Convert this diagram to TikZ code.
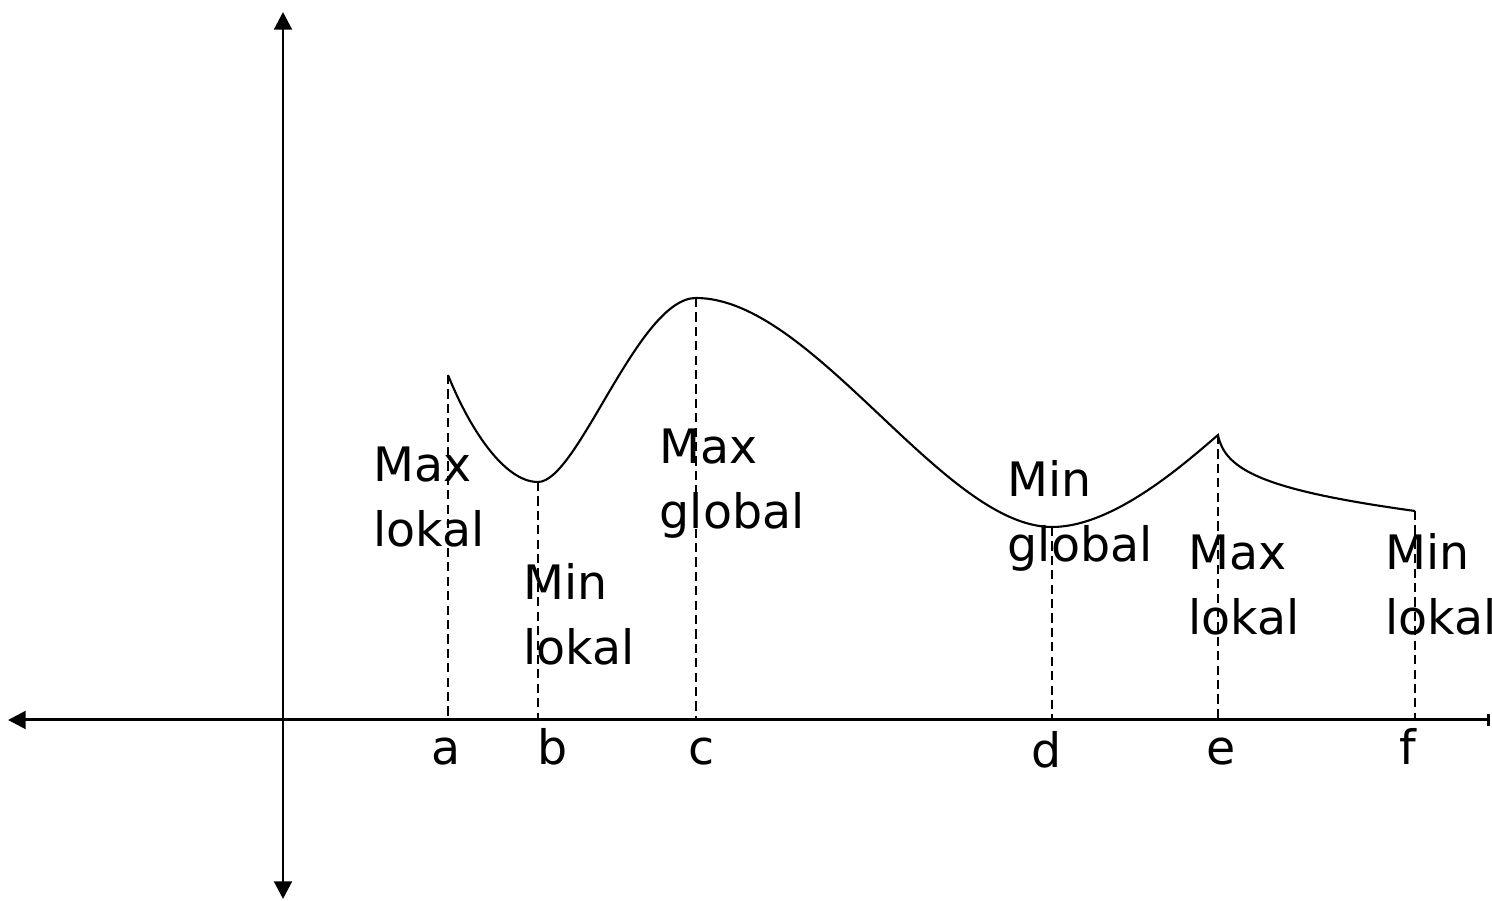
\documentclass[tikz,border=0pt]{standalone}
\usepackage{fontspec}
\setmainfont{DejaVu Sans}
\usetikzlibrary{arrows.meta,positioning}

\begin{document}
\begin{tikzpicture}[
  axis/.style={line width=0.85pt},
  guide/.style={line width=0.6pt, dash pattern=on 2.6pt off 1.5pt},
  lbl/.style={font=\fontsize{13.5}{18.5}\selectfont, align=left, anchor=base west, inner sep=0pt},
  tick/.style={font=\fontsize{13.5}{16}\selectfont, anchor=base, inner sep=0pt}]
\useasboundingbox (-2.83,-1.81) rectangle (12.09,7.20);
% axes
\coordinate (ytop) at (0,7.08);
\coordinate (ybot) at (0,-1.79);
\coordinate (xl) at (-2.75,0);
\coordinate (xr) at (12.07,0);
\draw[axis, {Triangle[length=5pt,width=5pt]}-{Triangle[length=5pt,width=5pt]}] (ybot) -- (ytop);
\draw[axis, {Triangle[length=5pt,width=5pt]}-{Bar[width=3.5pt]}] (xl) -- (xr);
% extreme points of the curve
\coordinate (pa) at (1.65,3.45);
\coordinate (pb) at (2.55,2.38);
\coordinate (pc) at (4.13,4.22);
\coordinate (pd) at (7.69,1.93);
\coordinate (pe) at (9.35,2.85);
\coordinate (pf) at (11.32,2.09);
\draw[line width=0.6pt] (pa) .. controls (1.85,2.95) and (2.2,2.38) .. (pb)
  .. controls (2.95,2.38) and (3.55,4.22) .. (pc)
  .. controls (5.3,4.22) and (6.6,1.93) .. (pd)
  .. controls (8.3,1.93) and (9.0,2.55) .. (pe)
  .. controls (9.42,2.5) and (9.8,2.3) .. (pf);
% points on the x axis
\coordinate (qa) at (1.65,0);
\coordinate (qb) at (2.55,0);
\coordinate (qc) at (4.13,0);
\coordinate (qd) at (7.69,0);
\coordinate (qe) at (9.35,0);
\coordinate (qf) at (11.32,0);
\foreach \p in {a,b,c,d,e,f}
  \draw[guide] (p\p) -- (q\p);
% letters below the axis
\node[tick] (ta) at (1.63,-0.45) {a};
\node[tick] (tb) at (2.70,-0.45) {b};
\node[tick] (tc) at (4.19,-0.45) {c};
\node[tick] (td) at (7.64,-0.48) {d};
\node[tick] (te) at (9.38,-0.45) {e};
\node[tick] (tf) at (11.25,-0.45) {f};
% labels of the extrema
\node[lbl] (la) at (0.90,1.73) {Max\\lokal};
\node[lbl] (lb) at (2.40,0.55) {Min\\lokal};
\node[lbl] (lc) at (3.76,1.91) {Max\\global};
\node[lbl] (ld) at (7.24,1.58) {Min\\global};
\node[lbl] (le) at (9.05,0.85) {Max\\lokal};
\node[lbl] (lf) at (11.02,0.85) {Min\\lokal};
\end{tikzpicture}
\end{document}
